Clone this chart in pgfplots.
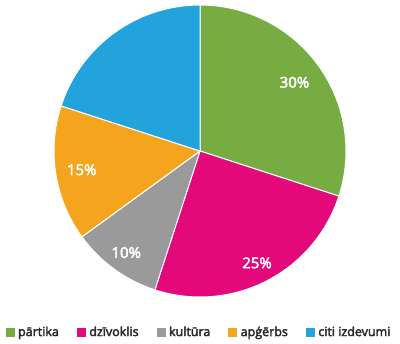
\documentclass[border=0pt]{standalone}
\usepackage{pgfplots}
\usepackage{pgfplotstable}
\pgfplotsset{compat=1.18}
\usepackage{fontspec}
\setmainfont{Open Sans}
\newfontfamily\semib{Open Sans}[FakeBold=3]
\definecolor{cA}{HTML}{77AC42}
\definecolor{cB}{HTML}{E3097B}
\definecolor{cC}{HTML}{9A9A9A}
\definecolor{cD}{HTML}{F5A41E}
\definecolor{cE}{HTML}{22A3DC}
\definecolor{legtext}{HTML}{2A2A2A}
\pgfplotstableread{
value color show lr
30 cA 1 0.80
25 cB 1 0.86
10 cC 1 0.86
15 cD 1 0.82
20 cE 0 0.80
}\piedata
\tikzset{lbl/.style={text=white, font=\semib\fontsize{15bp}{18bp}\selectfont, inner sep=0pt}}
\begin{document}
\begin{tikzpicture}
\useasboundingbox (0,0) rectangle (400bp,344bp);
\begin{axis}[
  hide axis, scale only axis, width=292bp, height=292bp,
  xmin=-1, xmax=1, ymin=-1, ymax=1, clip=false,
  at={(200bp,193bp)}, anchor=center,
  legend columns=5,
  legend style={draw=none, fill=none, at={(0.495,-0.12)}, anchor=center,
    font=\semib\fontsize{12.5bp}{14bp}\selectfont, text=legtext,
    nodes={inner sep=1bp},
    /tikz/every even column/.append style={column sep=17bp},
    /tikz/every odd column/.append style={column sep=3bp}},
]
\def\cum{0}
\pgfplotsforeachungrouped \i in {0,...,4}{%
  \pgfplotstablegetelem{\i}{value}\of\piedata \let\v\pgfplotsretval
  \pgfplotstablegetelem{\i}{color}\of\piedata \let\c\pgfplotsretval
  \pgfplotstablegetelem{\i}{show}\of\piedata \let\s\pgfplotsretval
  \pgfplotstablegetelem{\i}{lr}\of\piedata \let\lr\pgfplotsretval
  \pgfmathsetmacro\aS{90-3.6*\cum}
  \pgfmathsetmacro\aE{\aS-3.6*\v}
  \pgfmathsetmacro\aM{(\aS+\aE)/2}
  \edef\temp{\noexpand\fill[\c, draw=white, line width=1bp, line join=round] (axis cs:0,0) -- (axis cs:{cos(\aS)},{sin(\aS)}) arc[start angle=\aS, end angle=\aE, radius=146bp] -- cycle;}%
  \temp
  \ifnum\s=1
    \edef\temp{\noexpand\node[lbl] at (axis cs:{\lr*cos(\aM)},{\lr*sin(\aM)}) {\v\noexpand\%};}%
    \temp
  \fi
  \pgfmathsetmacro\cum{\cum+\v}%
}
\addlegendimage{legend image code/.code={\fill[cA] (0bp,-4bp) rectangle (8bp,4bp);}}
\addlegendentry{pārtika}
\addlegendimage{legend image code/.code={\fill[cB] (0bp,-4bp) rectangle (8bp,4bp);}}
\addlegendentry{dzīvoklis}
\addlegendimage{legend image code/.code={\fill[cC] (0bp,-4bp) rectangle (8bp,4bp);}}
\addlegendentry{kultūra}
\addlegendimage{legend image code/.code={\fill[cD] (0bp,-4bp) rectangle (8bp,4bp);}}
\addlegendentry{apģērbs}
\addlegendimage{legend image code/.code={\fill[cE] (0bp,-4bp) rectangle (8bp,4bp);}}
\addlegendentry{citi izdevumi}
\end{axis}
\end{tikzpicture}
\end{document}
